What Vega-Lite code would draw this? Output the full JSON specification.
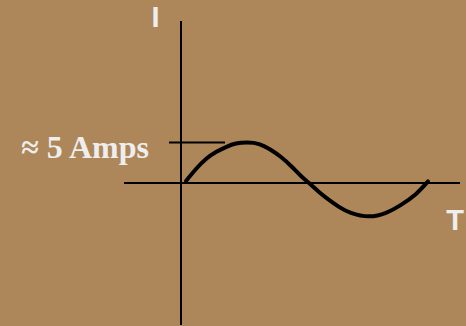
{
  "$schema": "https://vega.github.io/schema/vega-lite/v6.json",
  "width": 466,
  "height": 326,
  "autosize": {"type": "fit", "contains": "padding"},
  "padding": 0,
  "background": "#AD8659",
  "config": {"view": {"stroke": null}},
  "datasets": {
    "curve": [
      {"t": 5, "i": 2}, {"t": 15, "i": 14}, {"t": 25, "i": 24}, {"t": 35, "i": 31},
      {"t": 45, "i": 36}, {"t": 55, "i": 39.5}, {"t": 66, "i": 40.5}, {"t": 78, "i": 39},
      {"t": 90, "i": 33}, {"t": 100, "i": 26}, {"t": 110, "i": 17}, {"t": 120, "i": 7},
      {"t": 128, "i": 0}, {"t": 138, "i": -9}, {"t": 148, "i": -17}, {"t": 158, "i": -24},
      {"t": 170, "i": -30}, {"t": 188, "i": -33.5}, {"t": 205, "i": -30}, {"t": 220, "i": -22},
      {"t": 235, "i": -11}, {"t": 247, "i": 1.5}
    ],
    "lines": [
      {"x": 0, "x2": 0, "y": -142.5, "y2": 162.5},
      {"x": -57, "x2": 279, "y": 0, "y2": 0},
      {"x": -12, "x2": 44, "y": 40.5, "y2": 40.5}
    ],
    "labels": [
      {"x": -25.5, "y": 165, "text": "I"},
      {"x": 274, "y": -38, "text": "T"}
    ],
    "amps": [
      {"x": -32, "y": 35, "text": "≈ 5 Amps"}
    ]
  },
  "layer": [
    {
      "data": {"name": "lines"},
      "mark": {"type": "rule", "color": "black", "strokeWidth": 2},
      "encoding": {
        "x": {"field": "x", "type": "quantitative", "scale": {"domain": [-181, 285]}, "axis": null},
        "x2": {"field": "x2"},
        "y": {"field": "y", "type": "quantitative", "scale": {"domain": [-142.5, 183.5]}, "axis": null},
        "y2": {"field": "y2"}
      }
    },
    {
      "data": {"name": "curve"},
      "mark": {"type": "line", "color": "black", "strokeWidth": 4, "interpolate": "natural", "strokeCap": "round"},
      "encoding": {
        "x": {"field": "t", "type": "quantitative", "scale": {"domain": [-181, 285]}, "axis": null},
        "y": {"field": "i", "type": "quantitative", "scale": {"domain": [-142.5, 183.5]}, "axis": null}
      }
    },
    {
      "data": {"name": "labels"},
      "mark": {"type": "text", "color": "#EEEEEE", "font": "Liberation Sans", "fontWeight": "bold", "fontSize": 29, "align": "center", "baseline": "middle"},
      "encoding": {
        "x": {"field": "x", "type": "quantitative", "scale": {"domain": [-181, 285]}, "axis": null},
        "y": {"field": "y", "type": "quantitative", "scale": {"domain": [-142.5, 183.5]}, "axis": null},
        "text": {"field": "text"}
      }
    },
    {
      "data": {"name": "amps"},
      "mark": {"type": "text", "color": "#EEEEEE", "font": "Liberation Serif", "fontWeight": "bold", "fontSize": 32, "align": "right", "baseline": "middle"},
      "encoding": {
        "x": {"field": "x", "type": "quantitative", "scale": {"domain": [-181, 285]}, "axis": null},
        "y": {"field": "y", "type": "quantitative", "scale": {"domain": [-142.5, 183.5]}, "axis": null},
        "text": {"field": "text"}
      }
    }
  ]
}
